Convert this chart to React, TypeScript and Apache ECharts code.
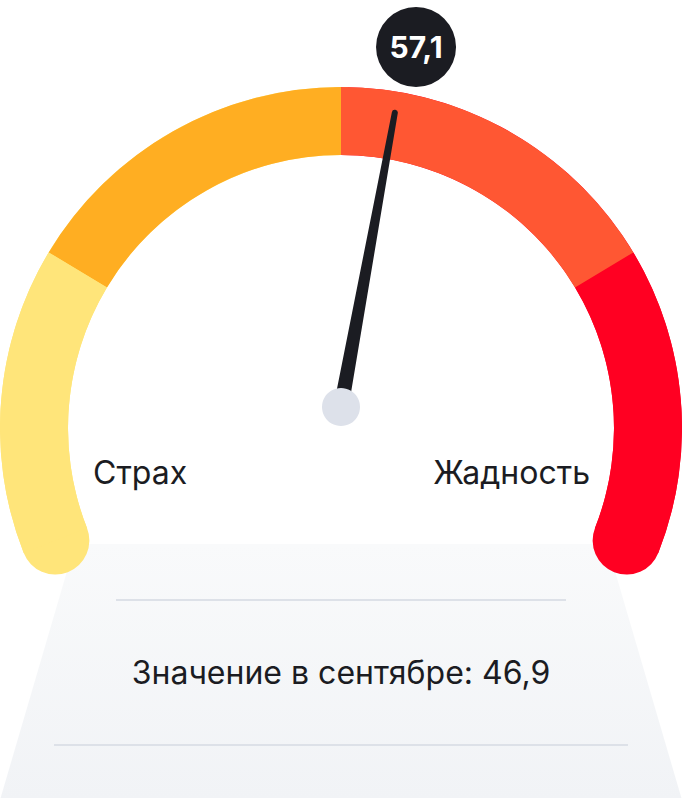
import React, { useEffect, useRef } from "react";
import * as echarts from "echarts";

// ---- data ----
const currentValue = 57.1;
const previousValue = 46.9;
const previousLabel = "Значение в сентябре";
const zoneColors = ["#FFE57A", "#FFAE22", "#FF5733", "#FF0022"];
const zoneEnds = [0.2354, 0.5, 0.7646, 1];
const endLabels = ["Страх", "Жадность"];
const scaleMin = 0;
const scaleMax = 100;

// ---- layout ----
const W = 682;
const H = 798;
const ARC_CX = 341;
const ARC_CY = 428;
const ARC_R = 341;
const ARC_W = 68;
const ARC_START = 201.5;
const ARC_END = -21.5;
const NEEDLE_CX = 341;
const NEEDLE_CY = 407;
const NEEDLE_START = 163.2;
const NEEDLE_END = 16.8;
const NEEDLE_LEN = 302;
const BADGE_DIST = 366;
const BADGE_SHIFT_X = 9;
const BADGE_SIZE = 80;
const INK = "#1B1C22";
const FONT = "Inter, 'Noto Sans', sans-serif";

const fmt = (v: number) => v.toFixed(1).replace(".", ",");

export default function App() {
  const ref = useRef<HTMLDivElement>(null);
  useEffect(() => {
    if (!ref.current) return;
    const chart = echarts.init(ref.current, undefined, { renderer: "svg" });

    const frac = (currentValue - scaleMin) / (scaleMax - scaleMin);
    const ang = ((NEEDLE_START - frac * (NEEDLE_START - NEEDLE_END)) * Math.PI) / 180;
    const badgeOffset = [Math.cos(ang) * BADGE_DIST + BADGE_SHIFT_X, -Math.sin(ang) * BADGE_DIST];

    const hidden = {
      axisTick: { show: false },
      splitLine: { show: false },
      axisLabel: { show: false },
      title: { show: false },
    };

    chart.setOption({
      animation: false,
      graphic: [
        {
          type: "polygon",
          z: 0,
          shape: { points: [[75, 544], [607, 544], [682, 800], [0, 800]] },
          style: {
            fill: new echarts.graphic.LinearGradient(0, 0, 0, 1, [
              { offset: 0, color: "#F9FAFB" },
              { offset: 1, color: "#F1F3F6" },
            ]),
          },
        },
        { type: "line", z: 1, shape: { x1: 116, y1: 600, x2: 566, y2: 600 }, style: { stroke: "#DDE1E8", lineWidth: 2 } },
        { type: "line", z: 1, shape: { x1: 54, y1: 745, x2: 628, y2: 745 }, style: { stroke: "#DDE1E8", lineWidth: 2 } },
        {
          type: "text",
          z: 1,
          x: 341,
          y: 672,
          style: {
            text: `${previousLabel}: ${fmt(previousValue)}`,
            fill: INK,
            font: `400 32px ${FONT}`,
            align: "center",
            verticalAlign: "middle",
          },
        },
        {
          type: "text",
          z: 1,
          x: 93,
          y: 472,
          style: { text: endLabels[0], fill: INK, font: `400 32px ${FONT}`, align: "left", verticalAlign: "middle" },
        },
        {
          type: "text",
          z: 1,
          x: 590,
          y: 472,
          style: { text: endLabels[1], fill: INK, font: `400 32px ${FONT}`, align: "right", verticalAlign: "middle" },
        },
      ],
      series: [
        {
          type: "gauge",
          z: 2,
          center: [ARC_CX, ARC_CY],
          radius: ARC_R,
          startAngle: ARC_START,
          endAngle: ARC_END,
          min: scaleMin,
          max: scaleMax,
          axisLine: {
            roundCap: true,
            lineStyle: { width: ARC_W, color: [[0.5, zoneColors[0]], [1, zoneColors[3]]] },
          },
          pointer: { show: false },
          anchor: { show: false },
          detail: { show: false },
          ...hidden,
          data: [{ value: scaleMin }],
        },
        {
          type: "gauge",
          z: 3,
          center: [ARC_CX, ARC_CY],
          radius: ARC_R,
          startAngle: ARC_START,
          endAngle: ARC_END,
          min: scaleMin,
          max: scaleMax,
          axisLine: {
            roundCap: false,
            lineStyle: { width: ARC_W, color: zoneEnds.map((e, i) => [e, zoneColors[i]]) },
          },
          pointer: { show: false },
          anchor: { show: false },
          detail: { show: false },
          ...hidden,
          data: [{ value: scaleMin }],
        },
        {
          type: "gauge",
          z: 4,
          center: [NEEDLE_CX, NEEDLE_CY],
          radius: NEEDLE_LEN,
          startAngle: NEEDLE_START,
          endAngle: NEEDLE_END,
          min: scaleMin,
          max: scaleMax,
          axisLine: { show: false },
          ...hidden,
          pointer: {
            show: true,
            icon: "path://M4.5,3 A3,3 0 0 1 10.5,3 L15,302 L0,302 Z",
            width: 15,
            length: NEEDLE_LEN,
            offsetCenter: [0, 0],
            itemStyle: { color: INK },
          },
          anchor: {
            show: true,
            showAbove: true,
            icon: "circle",
            size: 38,
            itemStyle: { color: "#DDE1EA" },
          },
          detail: {
            show: true,
            offsetCenter: badgeOffset,
            width: BADGE_SIZE,
            height: BADGE_SIZE,
            lineHeight: BADGE_SIZE,
            padding: 0,
            borderRadius: BADGE_SIZE / 2,
            backgroundColor: INK,
            color: "#FFFFFF",
            fontSize: 30,
            fontWeight: 700,
            fontFamily: FONT,
            formatter: (v: number) => fmt(v),
          },
          data: [{ value: currentValue }],
        },
      ],
    });
    return () => chart.dispose();
  }, []);

  return (
    <div
      ref={ref}
      style={{ position: "fixed", left: 0, top: 0, width: W + "px", height: H + "px", background: "#fff" }}
    />
  );
}
